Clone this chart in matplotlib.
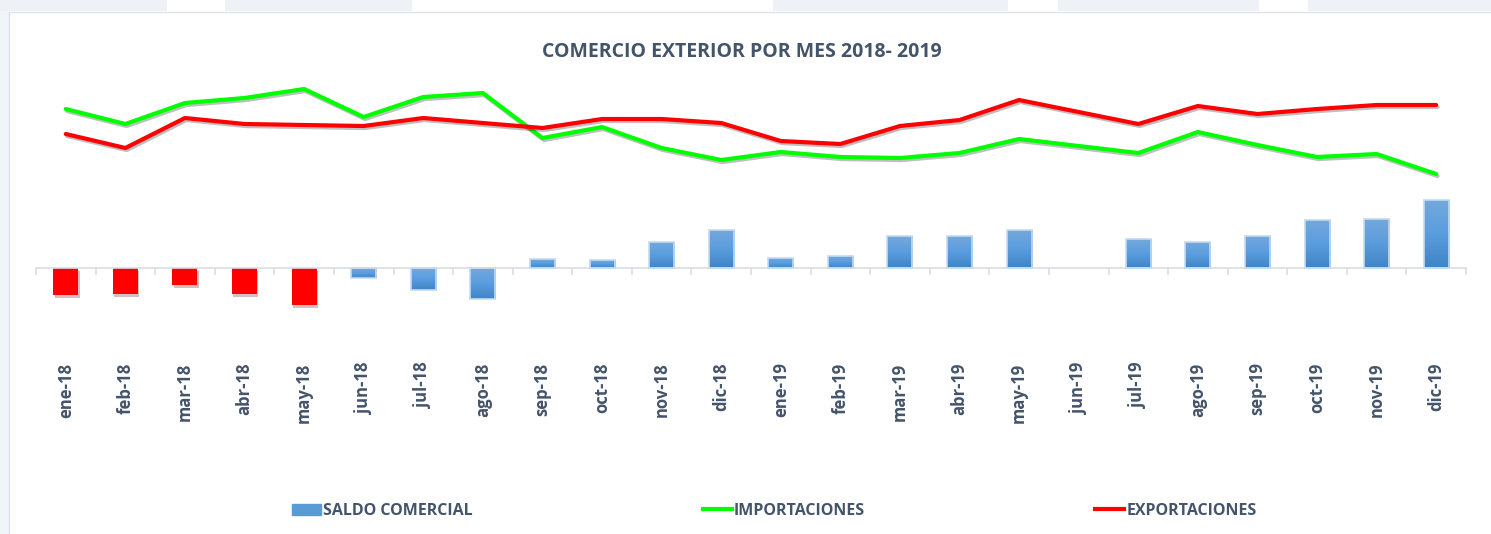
import matplotlib
matplotlib.use('Agg')
import matplotlib.pyplot as plt
import matplotlib.patheffects as pe
from matplotlib.patches import Rectangle, Patch
from matplotlib.lines import Line2D
from matplotlib.colors import LinearSegmentedColormap
import numpy as np

# Datos (unidades relativas)
meses = ['ene-18', 'feb-18', 'mar-18', 'abr-18', 'may-18', 'jun-18',
         'jul-18', 'ago-18', 'sep-18', 'oct-18', 'nov-18', 'dic-18',
         'ene-19', 'feb-19', 'mar-19', 'abr-19', 'may-19', 'jun-19',
         'jul-19', 'ago-19', 'sep-19', 'oct-19', 'nov-19', 'dic-19']
saldo = [-27, -26, -17, -26, -37, -10, -22, -31, 9, 8, 26, 38,
         10, 12, 32, 32, 38, np.nan, 29, 26, 32, 48, 49, 68]
importaciones = [159, 144, 165, 170, 179, 151, 171, 175, 130, 141, 120, 108,
                 116, 111, 110, 115, 129, 122, 115, 136, 123, 111, 114, 94]
exportaciones = [134, 120, 150, 144, 143, 142, 150, 145, 140, 149, 149, 145,
                 127, 124, 142, 148, 168, 156, 144, 162, 154, 159, 163, 163]
meses_rojos = 5  # primeros meses resaltados en rojo

TXT = '#44546A'
plt.rcParams['font.family'] = ['Open Sans', 'DejaVu Sans']

W, H = 1491, 534
fig = plt.figure(figsize=(W / 100, H / 100), dpi=100)
fig.patch.set_facecolor('white')

# Marco de fondo (franjas grises de la captura)
for x0, x1 in [(0, 167), (225, 412), (773, 1008), (1058, 1259), (1308, 1491)]:
    fig.add_artist(Rectangle((x0 / W, 1 - 11 / H), (x1 - x0) / W, 11 / H,
                             transform=fig.transFigure, color='#eef2f6', lw=0))
fig.add_artist(Rectangle((0, 0), 9 / W, 1 - 11 / H, transform=fig.transFigure,
                         color='#f1f4f8', lw=0))
fig.add_artist(Line2D([9 / W, 1], [1 - 11.5 / H] * 2, transform=fig.transFigure,
                      color='#dde3ea', lw=1))
fig.add_artist(Line2D([9 / W] * 2, [0, 1 - 11.5 / H], transform=fig.transFigure,
                      color='#dde3ea', lw=1))

# Ejes: 0 en y=268 px, 1 unidad = 1 px
ymin, ymax = -75, 195
top_px = 268 - ymax
ax = fig.add_axes([36 / W, 1 - (top_px + ymax - ymin) / H, 1430 / W, (ymax - ymin) / H])
ax.set_facecolor('none')

x = np.arange(len(meses))
colores = ['#FF0000' if i < meses_rojos else '#5b9bd5' for i in range(len(meses))]
bars = ax.bar(x, saldo, width=0.42, color=colores, zorder=2)

cmap = LinearSegmentedColormap.from_list('azul', ['#3f84c6', '#5a9ddf', '#73a8dc'])
grad = np.linspace(0, 1, 100).reshape(-1, 1)
for i, b in enumerate(bars):
    if np.isnan(saldo[i]):
        continue
    if i < meses_rojos:
        b.set_path_effects([pe.SimplePatchShadow(offset=(1, -2), alpha=0.25), pe.Normal()])
        continue
    bx, by = b.get_x(), b.get_y()
    bw, bh = b.get_width(), b.get_height()
    y0, y1 = sorted([by, by + bh])
    b.set_facecolor('none')
    b.set_edgecolor('#c5daf0')
    b.set_linewidth(1.2)
    b.set_zorder(3)
    im = ax.imshow(grad, extent=[bx, bx + bw, y0, y1], origin='lower', cmap=cmap,
                   aspect='auto', zorder=2)
    im.set_clip_path(b)

sombra = [pe.SimpleLineShadow(offset=(1, -1.5), alpha=0.25, shadow_color='k'), pe.Normal()]
ax.plot(x, importaciones, color='#00FF00', lw=3, zorder=4, path_effects=sombra,
        solid_capstyle='round')
ax.plot(x, exportaciones, color='#FF0000', lw=3, zorder=5, path_effects=sombra,
        solid_capstyle='round')

ax.set_xlim(-0.5, len(meses) - 0.5)
ax.set_ylim(ymin, ymax)

for s in ['top', 'right', 'left']:
    ax.spines[s].set_visible(False)
ax.spines['bottom'].set_position(('data', 0))
ax.spines['bottom'].set_color('#d9dde5')
ax.spines['bottom'].set_linewidth(1.2)
ax.set_yticks([])
ax.set_xticks(x)
ax.set_xticklabels(meses, rotation=90, fontsize=12, fontweight='bold', color=TXT)
ax.set_xticks(np.arange(-0.5, len(meses)), minor=True)
ax.tick_params(axis='x', which='major', length=0, pad=68)
ax.tick_params(axis='x', which='minor', length=5, width=1.2, color='#d9dde5')

fig.text(742 / W, 1 - 52 / H, 'COMERCIO EXTERIOR POR MES 2018- 2019', ha='center',
         va='center', fontsize=14, fontweight='bold', color=TXT)

handles = [Patch(facecolor='#5b9bd5', edgecolor='#5b9bd5'),
           Line2D([], [], color='#00FF00', lw=3),
           Line2D([], [], color='#FF0000', lw=3)]
labels = ['SALDO COMERCIAL', 'IMPORTACIONES', 'EXPORTACIONES']
leg = fig.legend(handles, labels, loc='center left', bbox_to_anchor=(292 / W, 1 - 511 / H),
                 ncol=3, frameon=False, borderpad=0, borderaxespad=0,
                 handlelength=1.8, handletextpad=0.15, columnspacing=14.4,
                 prop={'weight': 'bold', 'size': 11.5})
for t in leg.get_texts():
    t.set_color(TXT)

fig.savefig('out.png', dpi=100, facecolor=fig.get_facecolor())
